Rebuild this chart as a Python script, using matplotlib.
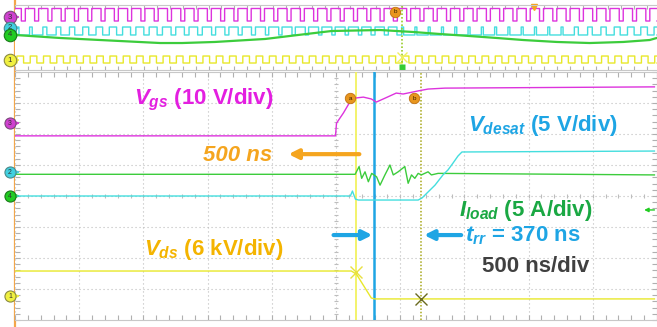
#!/usr/bin/env python3
import matplotlib

matplotlib.use("Agg")
import matplotlib.pyplot as plt
from matplotlib.lines import Line2D

# ---- main window: time in ns from the trigger, amplitude in divisions ----
VGS_T = [-2500, -4, 4, 58, 112, 151, 213, 275, 314, 384, 469, 523, 640, 717, 849, 2480]
VGS_Y = [1.94, 1.94, 2.35, 2.68, 3.06, 3.16, 3.19, 3.13, 3.03, 3.16, 3.32, 3.29, 3.39, 3.45, 3.48, 3.52]

ILOAD_T = [-2500, 149, 180, 200, 226, 252, 278, 316, 343, 381, 407, 420, 446, 484,
           536, 562, 588, 614, 640, 665, 717, 743, 795, 2480]
ILOAD_Y = [0.70, 0.70, 0.95, 0.57, 0.78, 0.46, 0.73, 0.62, 0.35, 0.68, 0.89, 1.00, 0.68, 0.78,
           0.95, 0.41, 0.68, 0.57, 0.73, 0.68, 0.78, 0.68, 0.73, 0.68]

VDESAT_T = [-2500, 112, 128, 151, 175, 640, 671, 717, 771, 833, 872, 911, 950, 981, 2480]
VDESAT_Y = [0.0, 0.0, 0.16, -0.10, -0.13, -0.13, -0.06, 0.13, 0.35, 0.68, 0.84, 1.06, 1.29, 1.42, 1.45]

VDS_T = [-2500, 120, 159, 275, 300, 2480]
VDS_Y = [-2.42, -2.42, -2.52, -3.29, -3.32, -3.32]

CURSOR_A_NS = 159
CURSOR_B_NS = 295
TRR_NS = 370
SHIFT_NS = 500
NS_PER_DIV = 500

# ---- overview window: time in divisions, amplitude in divisions ----
TOP_PERIOD = 0.206
MAG_START, MAG_DUTY, MAG_LEVELS = -0.046, 0.70, (3.57, 2.03)
YEL_START, YEL_DUTY, YEL_LEVELS = 0.03, 0.50, (-2.28, -3.14)
CYAN_START, CYAN_LEVELS = 0.02, (1.29, 0.31)
CYAN_DUTY = [0.2, 0.2, 0.3, 0.35, 0.4, 0.45, 0.5, 0.55, 0.6, 0.6, 0.6, 0.65, 0.65, 0.65,
             0.7, 0.7, 0.7, 0.7, 0.75, 0.75, 0.75, 0.75, 0.75, 0.75, 0.75, 0.75, 0.7, 0.7,
             0.65, 0.15, 0.15, 0.15, 0.15, 0.15, 0.15, 0.15, 0.15, 0.15, 0.15, 0.15, 0.15,
             0.15, 0.3, 0.35, 0.4, 0.45, 0.5, 0.5, 0.5]
GREEN_TOP_X = [0.0, 0.70, 1.32, 2.25, 2.59, 3.10, 3.88, 4.39, 4.91, 5.66, 6.17, 6.59,
               7.05, 7.47, 7.88, 8.40, 8.91, 9.43, 9.84, 9.95]
GREEN_TOP_Y = [0.31, -0.06, -0.31, -0.68, -0.68, -0.55, -0.18, 0.31, 0.80, 0.92, 0.68,
               0.43, 0.18, -0.06, -0.31, -0.55, -0.68, -0.55, -0.31, -0.06]
TOP_CURSOR = 6.0

MAGENTA = "#dd33dd"
MAGENTA_TEXT = "#e31fe0"
CYAN = "#44dede"
SKY = "#1ea5e4"
GREEN = "#3ccc3c"
GREEN_TEXT = "#1aa843"
YELLOW = "#e8e82a"
AMBER = "#f4b400"
ORANGE = "#f5a51e"
GRID = "#bdbdbd"

W_PX, H_PX = 657, 327


def square_wave(start, period, duties, levels, x_end):
    high, low = levels
    xs, ys = [start - period], [high]
    for k, duty in enumerate(duties):
        rise = start + k * period
        fall = rise + duty * period
        xs += [rise, rise, fall, fall]
        ys += [low, high, high, low]
    xs.append(x_end)
    ys.append(low)
    return xs, ys


def badge(ax, x, y, label, face, edge, size, arrow_to):
    ax.annotate("", xy=(arrow_to, y), xytext=(x, y), annotation_clip=False,
                arrowprops=dict(arrowstyle="-|>", color=face, lw=1.0, mutation_scale=5))
    ax.plot([x], [y], "o", ms=size, mfc=face, mec=edge, mew=0.8, clip_on=False, zorder=20)
    ax.text(x, y, label, ha="center", va="center", fontsize=size * 0.62, color="#333333",
            clip_on=False, zorder=21)


def cursor_dot(ax, x, y, label):
    ax.plot([x], [y], "o", ms=7.5, mfc="#e8961e", mec="#c07010", mew=0.6, zorder=15)
    ax.text(x, y, label, ha="center", va="center", fontsize=4.5, color="#3a2000", zorder=16)


def draw_overview(ax):
    x_end = (W_PX - 15) / 64.5
    ax.set_xlim(0, x_end)
    ax.set_ylim(-4, 4)
    n = len(CYAN_DUTY)
    for xs, ys, color in (
        square_wave(MAG_START, TOP_PERIOD, [MAG_DUTY] * n, MAG_LEVELS, x_end) + (MAGENTA,),
        square_wave(CYAN_START, TOP_PERIOD, CYAN_DUTY, CYAN_LEVELS, x_end) + (CYAN,),
        square_wave(YEL_START, TOP_PERIOD, [YEL_DUTY] * n, YEL_LEVELS, x_end) + (YELLOW,),
    ):
        ax.plot(xs, ys, color=color, lw=1.0)
    ax.plot(GREEN_TOP_X, GREEN_TOP_Y, color=GREEN, lw=1.6, zorder=5)

    ax.axvline(TOP_CURSOR, ymin=0.0, ymax=1.0, color="#9acd2a", lw=1.2, ls=(0, (1, 1.2)))
    ax.plot([TOP_CURSOR], [-3.6], "s", ms=4, mfc="#33cc33", mec="none", clip_on=False)
    ax.plot([TOP_CURSOR], [-2.4], "x", ms=7, mec="#f0f060", mew=1.0)
    cursor_dot(ax, 5.89, 3.14, "b")
    ax.plot([8.05], [3.75], "v", ms=5, color=ORANGE, clip_on=False)

    for spine in ("left", "right"):
        ax.spines[spine].set_visible(False)
    for spine in ("top", "bottom"):
        ax.spines[spine].set_color("#c8c8c8")
    ax.set_xticks([0.2 * k for k in range(50)])
    ax.set_yticks([])
    ax.tick_params(axis="x", direction="in", length=3, color="#b0b0b0", top=True,
                   labelbottom=False)

    bx = -0.078
    badge(ax, bx, 2.52, "3", "#d040d0", "#7a4a7a", 9, 0.12)
    badge(ax, bx, 1.17, "2", "#40d0e0", "#4a8a8a", 9, 0.12)
    badge(ax, bx, 0.31, "4", "#22cc22", "#1a7a1a", 9, 0.12)
    badge(ax, bx, -2.77, "1", "#f0f040", "#8a8a40", 9, 0.12)


def draw_main(ax):
    t_end = -2500 + (W_PX - 15) / 64.5 * NS_PER_DIV
    ax.set_xlim(-2500, t_end)
    ax.set_ylim(-4, 4)

    dots = (0, (1, 2.6))
    for k in range(11):
        ax.axvline(-2500 + k * NS_PER_DIV, color=GRID, lw=0.8, ls=dots, zorder=0)
    for k in range(-3, 4):
        ax.axhline(k, color=GRID, lw=0.8, ls=dots, zorder=0)
    minor_t = [-2500 + 100 * k for k in range(51)]
    minor_y = [-4 + 0.2 * k for k in range(41)]
    ax.vlines(minor_t, -0.07, 0.07, color=GRID, lw=0.8, zorder=0)
    ax.hlines(minor_y, -16, 16, color=GRID, lw=0.8, zorder=0)

    ax.set_xticks(minor_t)
    ax.set_yticks(minor_y)
    ax.tick_params(direction="in", length=3.5, color="#b0b0b0", top=True, right=True,
                   labelbottom=False, labelleft=False)
    for spine in ax.spines.values():
        spine.set_color("#c8c8c8")
    ax.spines["left"].set_visible(False)

    # cursors
    cursor_c = CURSOR_B_NS + TRR_NS
    ax.axvline(CURSOR_A_NS, color="#f2f260", lw=1.3, zorder=3)
    ax.axvline(CURSOR_B_NS, color=SKY, lw=1.8, zorder=3)
    ax.axvline(cursor_c, color="#a8a81a", lw=1.1, ls=(0, (1, 1.2)), zorder=3)

    ax.plot(VGS_T, VGS_Y, color=MAGENTA, lw=1.0, zorder=4)
    ax.plot(ILOAD_T, ILOAD_Y, color=GREEN, lw=1.0, zorder=4)
    ax.plot(VDESAT_T, VDESAT_Y, color=CYAN, lw=1.0, zorder=4)
    ax.plot(VDS_T, VDS_Y, color=YELLOW, lw=1.0, zorder=4)

    ax.plot([CURSOR_A_NS], [-2.45], "x", ms=9, mec="#e8e040", mew=1.0, zorder=6)
    ax.plot([cursor_c], [-3.32], "x", ms=9, mec="#6a6a20", mew=1.0, zorder=6)
    cursor_dot(ax, 112, 3.16, "a")
    cursor_dot(ax, 608, 3.16, "b")

    # annotations
    big = dict(fontsize=16, fontweight="bold", ha="left", va="baseline", zorder=10)
    ax.text(-1570, 2.94, r"$V_{gs}$ (10 V/div)", color=MAGENTA_TEXT, **big)
    ax.text(1027, 2.10, r"$V_{desat}$ (5 V/div)", color=SKY, **big)
    ax.text(960, -0.65, r"$I_{load}$ (5 A/div)", color=GREEN_TEXT, **big)
    ax.text(1003, -1.48, r"$t_{rr}$ = %d ns" % TRR_NS, color=SKY, **big)
    ax.text(1136, -2.45, "%d ns/div" % NS_PER_DIV, color="#404040", **big)
    ax.text(-1496, -1.90, r"$V_{ds}$ (6 kV/div)", color=AMBER, **big)
    ax.text(-1035, 1.13, "%d ns" % SHIFT_NS, color=ORANGE, fontstyle="italic", **big)

    arrow = dict(arrowstyle="-|>", lw=3.0, mutation_scale=14, shrinkA=0, shrinkB=0)
    ax.annotate("", xy=(170 - SHIFT_NS - 40, 1.35), xytext=(182, 1.35),
                arrowprops=dict(color=ORANGE, **arrow), zorder=9)
    ax.annotate("", xy=(CURSOR_B_NS - 12, -1.26), xytext=(-19, -1.26),
                arrowprops=dict(color=SKY, **arrow))
    ax.annotate("", xy=(cursor_c + 21, -1.26), xytext=(975, -1.26),
                arrowprops=dict(color=SKY, **arrow))
    ax.annotate("", xy=(2400, -0.45), xytext=(2480, -0.45), annotation_clip=False,
                arrowprops=dict(arrowstyle="-|>", color="#22cc22", lw=1.0, mutation_scale=6,
                                shrinkA=0, shrinkB=0))

    bx = -2539
    badge(ax, bx, 2.35, "3", "#d040d0", "#7a4a7a", 8, -2440)
    badge(ax, bx, 0.77, "2", "#40d0e0", "#4a8a8a", 8, -2440)
    badge(ax, bx, 0.0, "4", "#22cc22", "#1a7a1a", 8, -2440)
    badge(ax, bx, -3.23, "1", "#f0f040", "#8a8a40", 8, -2440)


def main() -> int:
    plt.rcParams["font.family"] = ["Liberation Sans", "DejaVu Sans"]
    plt.rcParams["mathtext.fontset"] = "custom"
    plt.rcParams["mathtext.it"] = "Liberation Sans:italic:bold"
    plt.rcParams["mathtext.rm"] = "Liberation Sans:bold"
    plt.rcParams["mathtext.bf"] = "Liberation Sans:bold"

    fig = plt.figure(figsize=(W_PX / 100, H_PX / 100), dpi=100)
    left = 15 / W_PX
    ax_top = fig.add_axes((left, (H_PX - 70) / H_PX, 1 - left, 65 / H_PX))
    ax_main = fig.add_axes((left, 7 / H_PX, 1 - left, 248 / H_PX))
    draw_overview(ax_top)
    draw_main(ax_main)

    fig.add_artist(Line2D([14.5 / W_PX, 14.5 / W_PX], [0.0, 1.0], color="#f3a64a", lw=1.6,
                          transform=fig.transFigure, zorder=0))
    fig.savefig("out.png", dpi=100)
    plt.close(fig)
    return 0


if __name__ == "__main__":
    raise SystemExit(main())
